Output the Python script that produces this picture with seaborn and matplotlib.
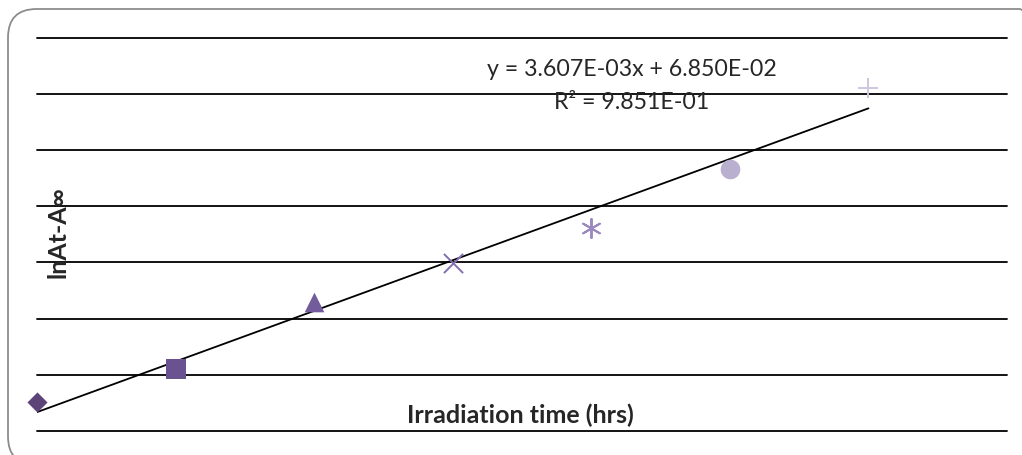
import numpy as np
import pandas as pd
import matplotlib
matplotlib.use("Agg")
import matplotlib.pyplot as plt
from matplotlib.patches import FancyBboxPatch
import seaborn as sns

# data (axis has no tick labels, so units are relative)
time_hrs = [0, 25, 50, 75, 100, 125, 150]
ln_a = [0.085, 0.143, 0.263, 0.332, 0.395, 0.500, 0.644]
markers = ["D", "s", "^", "x", (6, 2, 0), "o", "+"]
colors = ["#5c4478", "#6a5190", "#735c9c", "#8270ae", "#9a89c0", "#b9afcf", "#cdc6dd"]
sizes = [105, 200, 200, 190, 190, 200, 210]

eq_text = "y = 3.607E-03x + 6.850E-02"
r2_text = "R² = 9.851E-01"

df = pd.DataFrame({"time": time_hrs, "lna": ln_a})

sns.set_style("white")
plt.rcParams["font.family"] = ["Lato", "DejaVu Sans"]

fig = plt.figure(figsize=(10.22, 4.55), dpi=100)
ax = fig.add_axes([37 / 1022, 24 / 455, 970 / 1022, 393.3 / 455])

# rounded chart border (runs off the right and bottom edges)
border = FancyBboxPatch((8 / 1022, -10 / 455), 1040 / 1022, 456 / 455,
                        boxstyle="round,pad=0,rounding_size=0.028",
                        transform=fig.transFigure, fill=False,
                        edgecolor="#8c8c8c", linewidth=1.3, zorder=0,
                        mutation_aspect=1022 / 455)
fig.patches.append(border)

# trend line
sns.regplot(data=df, x="time", y="lna", scatter=False, ci=None, ax=ax,
            line_kws={"color": "black", "linewidth": 1.3, "zorder": 2})

# one marker per series
for xv, yv, m, c, s in zip(time_hrs, ln_a, markers, colors, sizes):
    if m in ["x", "+"] or isinstance(m, tuple):
        sns.scatterplot(x=[xv], y=[yv], marker=m, s=s, color=c, linewidth=1.4,
                        ax=ax, clip_on=False, zorder=3)
    else:
        sns.scatterplot(x=[xv], y=[yv], marker=m, s=s, color=c, edgecolor=c,
                        linewidth=0, ax=ax, clip_on=False, zorder=3)

ymin = 0.0335
ax.set_xlim(0, 175)
ax.set_ylim(ymin, ymin + 0.7)
ax.set_yticks(np.linspace(ymin, ymin + 0.7, 8))
ax.set_xticks([])
ax.tick_params(left=False, labelleft=False, bottom=False, labelbottom=False)
ax.grid(axis="y", color="black", linewidth=1.3)
for gl in ax.get_ygridlines():
    gl.set_clip_on(False)
ax.set_axisbelow(True)
sns.despine(ax=ax, left=True, bottom=True)

ax.set_xlabel("Irradiation time (hrs)", fontsize=18, fontweight="bold")
ax.xaxis.set_label_coords(0.498, 0.069)
ax.set_ylabel("lnAt-A∞", fontsize=18, fontweight="bold")
ax.yaxis.set_label_coords(0.034, 0.505)

ax.text(0.613, 0.920, eq_text, transform=ax.transAxes, ha="center", va="center", fontsize=16.7)
ax.text(0.613, 0.834, r2_text, transform=ax.transAxes, ha="center", va="center", fontsize=16.7)

fig.savefig("out.png", dpi=100)
